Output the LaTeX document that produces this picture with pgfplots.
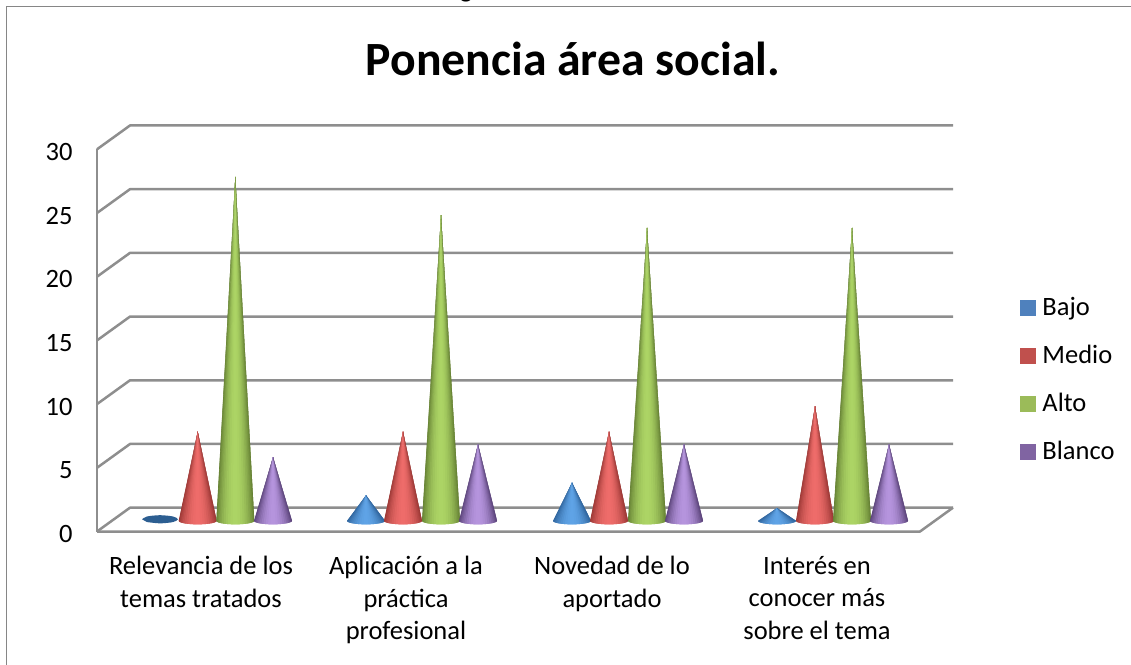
\documentclass[border=0pt]{standalone}
\usepackage{fontspec}
\setmainfont{Carlito}
\usepackage{pgfplots}
\pgfplotsset{compat=1.18}
\definecolor{gridgray}{HTML}{8E8E8E}
\definecolor{framegray}{HTML}{868686}
\definecolor{bajoL}{HTML}{5FA3E6}\definecolor{bajoD}{HTML}{2F649C}\definecolor{bajoK}{HTML}{4F81BD}
\definecolor{medioL}{HTML}{EE6C6A}\definecolor{medioD}{HTML}{9A3734}\definecolor{medioK}{HTML}{C0504D}
\definecolor{altoL}{HTML}{ACD465}\definecolor{altoD}{HTML}{647F33}\definecolor{altoK}{HTML}{9BBB59}
\definecolor{blancoL}{HTML}{B594DD}\definecolor{blancoD}{HTML}{5A4379}\definecolor{blancoK}{HTML}{8064A2}
\definecolor{flatblue}{HTML}{2C5E91}
\newcommand\ConeA{19}
\newcommand\ConeB{0.28}
% #1 x position, #2 value, #3 light colour, #4 dark colour
\newcommand{\cone}[4]{%
  \ifdim #2pt=0pt
    \addplot[forget plot,draw=none,fill=flatblue,smooth,no marks] coordinates {(#1-18,0.12)(#1-13,0.34)(#1,0.44)(#1+13,0.34)(#1+18,0.12)(#1+13,-0.1)(#1,-0.2)(#1-13,-0.1)} -- cycle;
  \else
    \pgfplotsforeachungrouped \i in {0,...,23}{%
      \pgfmathsetmacro\ta{\i*7.5}%
      \pgfmathsetmacro\tb{min(180,(\i+2)*7.5)}%
      \pgfmathsetmacro\xa{#1-\ConeA*cos(\ta)}%
      \pgfmathsetmacro\ya{-\ConeB*sin(\ta)}%
      \pgfmathsetmacro\xb{#1-\ConeA*cos(\tb)}%
      \pgfmathsetmacro\yb{-\ConeB*sin(\tb)}%
      \pgfmathsetmacro\p{100*sin((\i+0.5)*7.5)^1.8}%
      \edef\temp{\noexpand\addplot[forget plot,draw=none,no marks,fill=#3!\p!#4] coordinates {(\xa,\ya)(\xb,\yb)(#1,#2)} -- cycle;}%
      \temp
    }%
  \fi
}
\pgfplotsset{wall/.style={forget plot,no marks,draw=gridgray,line width=2.5pt,line join=round}}
\begin{document}
\begin{tikzpicture}[x=1pt,y=1pt]
\path[use as bounding box,clip] (0,0) rectangle (1131,664);
\draw[framegray,line width=1.4pt] (6.5,-2) -- (6.5,657.5) -- (1135,657.5);
\node[anchor=base,font=\fontsize{26.5}{30}\selectfont] at (466,666) {g};
\begin{axis}[
  at={(97pt,132.5pt)},anchor=south west,
  scale only axis,width=856pt,height=382.2pt,
  xmin=97,xmax=953,ymin=0,ymax=30,
  clip=false,
  axis x line=none,
  axis y line=left,
  axis line style={draw=none},
  y axis line style={-},
  ytick={0,5,10,15,20,25,30},
  major tick length=0pt,
  xtick={201,406,612,817},
  xticklabels={},
  /pgf/number format/assume math mode=true,
  tick label style={font=\fontsize{26.5}{30}\selectfont,text=black},
  yticklabel style={anchor=east,xshift=-21pt,yshift=-2.5pt},
  title={\fontsize{47.7}{52}\selectfont\bfseries Ponencia área social.},
  title style={at={(axis description cs:0.556,1.178)},anchor=base,inner sep=0pt},
  legend style={at={(axis cs:1020,18.24)},anchor=north west,draw=none,fill=none,
    inner sep=0pt,outer sep=0pt,row sep=23.5pt,
    font=\fontsize{26.5}{30}\selectfont,
    nodes={inner sep=0pt,text height=16pt,text depth=8.5pt,anchor=west},
    /tikz/column 1/.style={column sep=7pt}},
  legend cell align=left,
  legend image code/.code={\fill[#1] (0pt,-3.5pt) rectangle (15pt,11.5pt);},
]
\addlegendimage{bajoK}\addlegendentry{Bajo}
\addlegendimage{medioK}\addlegendentry{Medio}
\addlegendimage{altoK}\addlegendentry{Alto}
\addlegendimage{blancoK}\addlegendentry{Blanco}
% walls and floor
\addplot[wall] coordinates {(97,0)(97,30)};
\addplot[wall] coordinates {(97,0)(920,0)(953,1.87)};
\addplot[wall] coordinates {(97,0)(130,1.87)(953,1.87)};
\addplot[wall] coordinates {(97,5)(130,6.87)(953,6.87)};
\addplot[wall] coordinates {(97,10)(130,11.87)(953,11.87)};
\addplot[wall] coordinates {(97,15)(130,16.87)(953,16.87)};
\addplot[wall] coordinates {(97,20)(130,21.87)(953,21.87)};
\addplot[wall] coordinates {(97,25)(130,26.87)(953,26.87)};
\addplot[wall] coordinates {(97,30)(130,31.87)(953,31.87)};
% category labels
\path node[align=center,anchor=north,font=\fontsize{26.5}{32.5}\selectfont] at (axis cs:201,-1.67) {Relevancia de los\\temas tratados};
\path node[align=center,anchor=north,font=\fontsize{26.5}{32.5}\selectfont] at (axis cs:406,-1.67) {Aplicación a la\\práctica\\profesional};
\path node[align=center,anchor=north,font=\fontsize{26.5}{32.5}\selectfont] at (axis cs:612,-1.67) {Novedad de lo\\aportado};
\path node[align=center,anchor=north,font=\fontsize{26.5}{32.5}\selectfont] at (axis cs:817,-1.67) {Interés en\\conocer más\\sobre el tema};
\end{axis}
\begin{axis}[
  at={(97pt,143.2pt)},anchor=south west,
  scale only axis,width=856pt,height=382.2pt,
  xmin=97,xmax=953,ymin=0,ymax=30,
  clip=false,hide axis,
]
% Relevancia de los temas tratados
\cone{160}{0}{bajoL}{bajoD}
\cone{197.7}{7}{medioL}{medioD}
\cone{235.3}{27}{altoL}{altoD}
\cone{273}{5}{blancoL}{blancoD}
% Aplicacion a la practica profesional
\cone{366}{2}{bajoL}{bajoD}
\cone{403}{7}{medioL}{medioD}
\cone{441}{24}{altoL}{altoD}
\cone{478}{6}{blancoL}{blancoD}
% Novedad de lo aportado
\cone{572}{3}{bajoL}{bajoD}
\cone{609}{7}{medioL}{medioD}
\cone{647}{23}{altoL}{altoD}
\cone{684}{6}{blancoL}{blancoD}
% Interes en conocer mas sobre el tema
\cone{777}{1}{bajoL}{bajoD}
\cone{815}{9}{medioL}{medioD}
\cone{852}{23}{altoL}{altoD}
\cone{889}{6}{blancoL}{blancoD}
\end{axis}
\end{tikzpicture}
\end{document}
